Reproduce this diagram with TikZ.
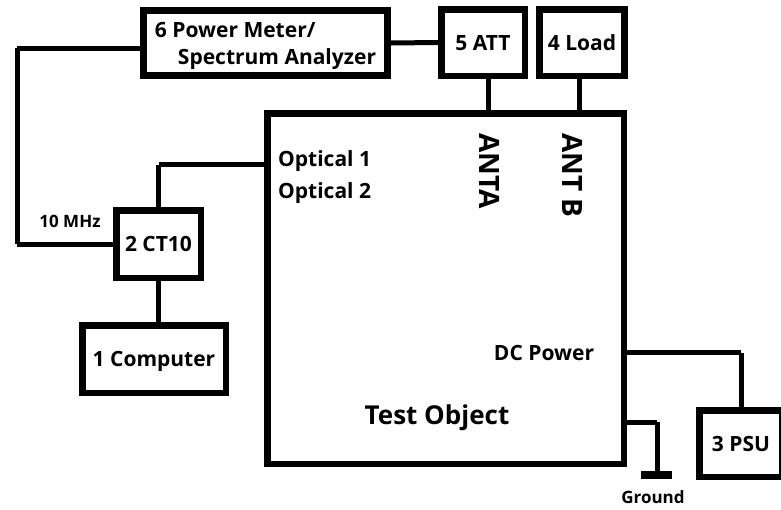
\documentclass[tikz,border=0pt]{standalone}
\usepackage{fontspec}
\setmainfont{Open Sans}
\usetikzlibrary{positioning}

\begin{document}
\begin{tikzpicture}[x=1pt, y=-1pt,
        unit/.style={draw, rectangle, line width=6.5pt, inner sep=0pt, text depth=0pt,
            font=\fontsize{21}{27}\selectfont\bfseries},
        port/.style={inner sep=0pt, font=\fontsize{21}{27}\selectfont\bfseries},
        small/.style={inner sep=0pt, font=\fontsize{17}{20}\selectfont\bfseries},
        wire/.style={line width=5pt}]
        \useasboundingbox (0,0) rectangle (781,509);

        \node[unit, minimum width=244pt, minimum height=65pt, align=left] at (265.5, 43)(pm){6 Power Meter/\\\hspace*{23pt}Spectrum Analyzer};
        \node[unit, minimum width=83.5pt, minimum height=66.5pt] at (483, 42.5)(att){5 ATT};
        \node[unit, minimum width=85pt, minimum height=66.5pt] at (582, 42.5)(load){4 Load};
        \node[unit, minimum width=356.5pt, minimum height=350.5pt] at (445.5, 288.5)(dut){};
        \node[unit, minimum width=84.5pt, minimum height=67.5pt] at (158.5, 244)(ct){2 CT10};
        \node[unit, minimum width=143.5pt, minimum height=67.5pt] at (154, 359)(pc){1 Computer};
        \node[unit, minimum width=83pt, minimum height=66.5pt] at (741, 443.5)(psu){3 PSU};

        \node[port, anchor=base west] at (278, 166)(opt1){Optical 1};
        \node[port, anchor=base west] at (278, 198)(opt2){Optical 2};
        \node[port, rotate=-90, anchor=west, font=\fontsize{28}{32}\selectfont\bfseries] at (490, 133)(anta){ANTA};
        \node[port, rotate=-90, anchor=west, font=\fontsize{28}{32}\selectfont\bfseries] at (573, 133)(antb){ANT B};
        \node[port, anchor=base] at (544, 360)(dc){DC Power};
        \node[port, anchor=base, font=\fontsize{26}{30}\selectfont\bfseries] at (437, 424)(name){Test Object};
        \node[small, anchor=base] at (70, 227)(ref){10 MHz};
        \coordinate (gnd) at (657, 475);
        \node[small, anchor=base] at (653, 503)(gndlabel){Ground};
        \coordinate (clk) at (17, 0);

        \path[wire]
        ([yshift=-5pt]pm.west) edge[-] ([yshift=-5pt]pm.west -| clk)
        ([yshift=-5pt]pm.west -| clk) edge (clk |- ct.west)
        (clk |- ct.west) edge (ct.west)
        (pm.east) edge (att.west)
        ([xshift=5pt]att.south) edge ([xshift=5pt]att.south |- dut.north)
        ([xshift=-3pt]load.south) edge ([xshift=-3pt]load.south |- dut.north)
        (ct.north) edge ([yshift=-4pt]ct.north |- opt1.west)
        ([yshift=-4pt]ct.north |- opt1.west) edge ([yshift=-4pt]dut.west |- opt1.west)
        (ct.south) edge (ct.south |- pc.north)
        (dut.east |- dc.east) edge (psu.north |- dc.east)
        (psu.north |- dc.east) edge (psu.north)
        ([yshift=-422pt]dut.east |- 0,0) edge (gnd |- 0,422)
        (gnd |- 0,422) edge (gnd)
        ;
        \draw[line width=7.5pt] ([xshift=-16pt]gnd) -- ([xshift=15pt]gnd);
    \end{tikzpicture}
\end{document}
